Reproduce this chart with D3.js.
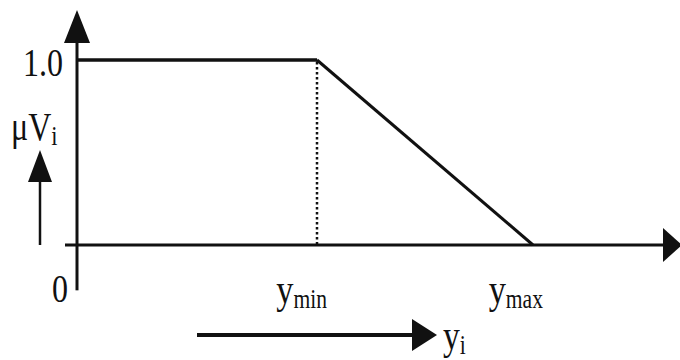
<!DOCTYPE html>
<html>
<head>
<meta charset="utf-8">
<script src="https://cdn.jsdelivr.net/npm/d3@7"></script>
<style>
  body { margin: 0; background: #fff; }
  text { font-family: "Liberation Serif", "DejaVu Serif", serif; fill: #111; }
</style>
</head>
<body>
<div id="chart"></div>
<script>
// membership function: mu = 1 up to ymin, then falls to 0 at ymax
var xPoints = [0, 4.0, 7.6];
var muValues = [1, 1, 0];
var yTicks = ["0", "1.0"];
var xLabels = [{base: "y", sub: "min", at: 4.0}, {base: "y", sub: "max", at: 7.6}];

var width = 680, height = 360;
var ink = "#111";

var svg = d3.select("#chart").append("svg")
    .attr("width", width)
    .attr("height", height);

var x = d3.scaleLinear().domain([0, 10]).range([77, 677]);
var y = d3.scaleLinear().domain([0, 1]).range([245, 60]);

// arrow head helper, tip at (tx,ty) pointing up or right
function head(tx, ty, dir, len, half) {
    var pts = dir === "up"
        ? [[tx, ty], [tx - half, ty + len], [tx + half, ty + len]]
        : [[tx, ty], [tx - len, ty - half], [tx - len, ty + half]];
    svg.append("path").attr("d", d3.line()(pts) + "Z").attr("fill", ink);
}

// y axis
svg.append("line")
    .attr("x1", x(0)).attr("x2", x(0))
    .attr("y1", y(-0.245)).attr("y2", 40)
    .attr("stroke", ink).attr("stroke-width", 3);
head(x(0), 10, "up", 33, 13);

// x axis
svg.append("line")
    .attr("x1", x(-0.2)).attr("x2", 665)
    .attr("y1", y(0)).attr("y2", y(0))
    .attr("stroke", ink).attr("stroke-width", 3);
head(682, y(0), "right", 19, 17);

// dotted drop line at ymin
svg.append("line")
    .attr("x1", x(xPoints[1])).attr("x2", x(xPoints[1]))
    .attr("y1", y(muValues[1]) + 2).attr("y2", y(0))
    .attr("stroke", ink).attr("stroke-width", 2.5)
    .attr("stroke-dasharray", "2.5,2.5");

// membership line
var pts = xPoints.map(function(d, i) { return [x(d), y(muValues[i])]; });
svg.append("path")
    .attr("d", d3.line()(pts.slice(0, 2)))
    .attr("fill", "none")
    .attr("stroke", ink)
    .attr("stroke-width", 3.5);
svg.append("path")
    .attr("d", d3.line()(pts.slice(1)))
    .attr("fill", "none")
    .attr("stroke", ink)
    .attr("stroke-width", 3);

// tick labels
function label(tx, ty, base, sub, size, subSize, anchor) {
    var t = svg.append("text")
        .attr("transform", "translate(" + tx + "," + ty + ") scale(0.8,1)")
        .attr("text-anchor", anchor || "start")
        .style("font-size", size + "px");
    t.append("tspan").text(base);
    if (sub) {
        t.append("tspan").attr("dy", 5).style("font-size", subSize + "px").text(sub);
    }
    return t;
}
label(63, 76, yTicks[1], null, 40, 0, "end");
label(52, 302, yTicks[0], null, 40, 0, "start");
xLabels.forEach(function(d) {
    label(x(d.at) + 10, 303, d.base, d.sub, 43, 27, "end");
});

// mu V_i label and small up arrow
label(11, 140, "\u03bcV", "i", 40, 28);
svg.append("line")
    .attr("x1", 40).attr("x2", 40)
    .attr("y1", 178).attr("y2", y(0))
    .attr("stroke", ink).attr("stroke-width", 2.5);
head(40, 150, "up", 32, 12);

// y_i direction arrow
svg.append("line")
    .attr("x1", 197).attr("x2", 414)
    .attr("y1", 335).attr("y2", 335)
    .attr("stroke", ink).attr("stroke-width", 4);
head(437, 335, "right", 25, 16);
label(443, 349, "y", "i", 42, 27);
</script>
</body>
</html>
